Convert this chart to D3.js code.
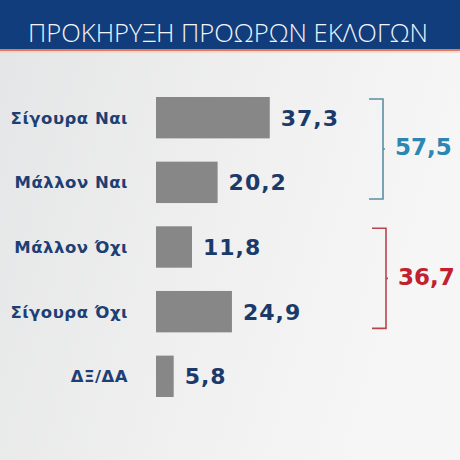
<!DOCTYPE html>
<html>
<head>
    <meta charset="utf-8">
    <script src="https://d3js.org/d3.v7.min.js"></script>
    <style>
        body { margin: 0; background: #eeeeee; }
        svg { display: block; }
        .label { font-family: "DejaVu Sans", sans-serif; font-weight: bold; fill: #1d3f73; font-size: 16.5px; letter-spacing: 0.5px; }
        .value { font-family: "DejaVu Sans", sans-serif; font-weight: bold; fill: #1c3a69; font-size: 22px; letter-spacing: 1px; }
        .total { font-family: "DejaVu Sans", sans-serif; font-weight: bold; font-size: 23px; }
    </style>
</head>
<body>
    <svg width="460" height="460"></svg>
    <script>
        // poll data
        let categories = ["Σίγουρα Ναι", "Μάλλον Ναι", "Μάλλον Όχι", "Σίγουρα Όχι", "ΔΞ/ΔΑ"];
        let values = [37.3, 20.2, 11.8, 24.9, 5.8];
        let groupMembers = [["Σίγουρα Ναι", "Μάλλον Ναι"], ["Μάλλον Όχι", "Σίγουρα Όχι"]];
        let groupColors = ["#2b86b2", "#c2202f"];
        let bracketColors = ["#5b8ea5", "#b8454e"];
        let title = "ΠΡΟΚΗΡΥΞΗ ΠΡΟΩΡΩΝ ΕΚΛΟΓΩΝ";

        let fmt = v => d3.format(".1f")(v).replace(".", ",");

        let svg = d3.select("svg");
        let W = 460, H = 460;

        // background gradient
        let defs = svg.append("defs");
        let bg = defs.append("linearGradient").attr("id", "bg")
            .attr("x1", "0").attr("y1", "0").attr("x2", "1").attr("y2", "0.3");
        bg.append("stop").attr("offset", "0").attr("stop-color", "#e4e5e6");
        bg.append("stop").attr("offset", "0.6").attr("stop-color", "#f0f0f0");
        bg.append("stop").attr("offset", "1").attr("stop-color", "#f6f6f6");
        svg.append("rect").attr("width", W).attr("height", H).attr("fill", "url(#bg)");

        // header
        svg.append("rect").attr("width", W).attr("height", 49).attr("fill", "#113d7c");
        svg.append("rect").attr("y", 49).attr("width", W).attr("height", 2).attr("fill", "#df7a5e");
        svg.append("rect").attr("y", 51).attr("width", W).attr("height", 2).attr("fill", "#f0d2c4").attr("opacity", 0.6);
        svg.append("text")
            .attr("x", 28).attr("y", 42)
            .attr("textLength", 400).attr("lengthAdjust", "spacingAndGlyphs")
            .style("font-family", "'Open Sans', sans-serif")
            .style("font-weight", 300)
            .style("font-size", "26px")
            .style("fill", "#f2f4f8")
            .text(title);

        // scales
        let x = d3.scaleLinear().domain([0, 40]).range([156, 156 + 122]);
        let y = d3.scaleBand().domain(categories).range([97, 397]).paddingInner(0.36);
        let data = categories.map((c, i) => ({ cat: c, val: values[i] }));

        svg.selectAll(".bar")
            .data(data)
            .enter().append("rect")
            .attr("class", "bar")
            .attr("x", x(0))
            .attr("y", d => y(d.cat))
            .attr("width", d => x(d.val) - x(0))
            .attr("height", y.bandwidth())
            .attr("fill", "#878787");

        svg.selectAll(".label")
            .data(data)
            .enter().append("text")
            .attr("class", "label")
            .attr("x", 128)
            .attr("y", d => y(d.cat) + y.bandwidth() / 2)
            .attr("dy", "0.36em")
            .attr("text-anchor", "end")
            .text(d => d.cat);

        svg.selectAll(".value")
            .data(data)
            .enter().append("text")
            .attr("class", "value")
            .attr("x", d => x(d.val) + 11)
            .attr("y", d => y(d.cat) + y.bandwidth() / 2)
            .attr("dy", "0.36em")
            .text(d => fmt(d.val));

        // brackets with totals
        let bracketX = [383, 386];
        groupMembers.forEach((members, g) => {
            let top = y(members[0]) + 2;
            let bottom = y(members[members.length - 1]) + y.bandwidth() - 4;
            let bx = bracketX[g];
            let mid = (top + bottom) / 2;
            svg.append("path")
                .attr("d", `M${bx - 14},${top} H${bx} V${bottom} H${bx - 14} M${bx},${mid} h2`)
                .attr("fill", "none")
                .attr("stroke", bracketColors[g])
                .attr("stroke-width", 1.6);
            let total = d3.sum(members, m => values[categories.indexOf(m)]);
            svg.append("text")
                .attr("class", "total")
                .attr("x", bx + 12)
                .attr("y", mid - 2)
                .attr("dy", "0.36em")
                .style("fill", groupColors[g])
                .text(fmt(total));
        });
    </script>
</body>
</html>
